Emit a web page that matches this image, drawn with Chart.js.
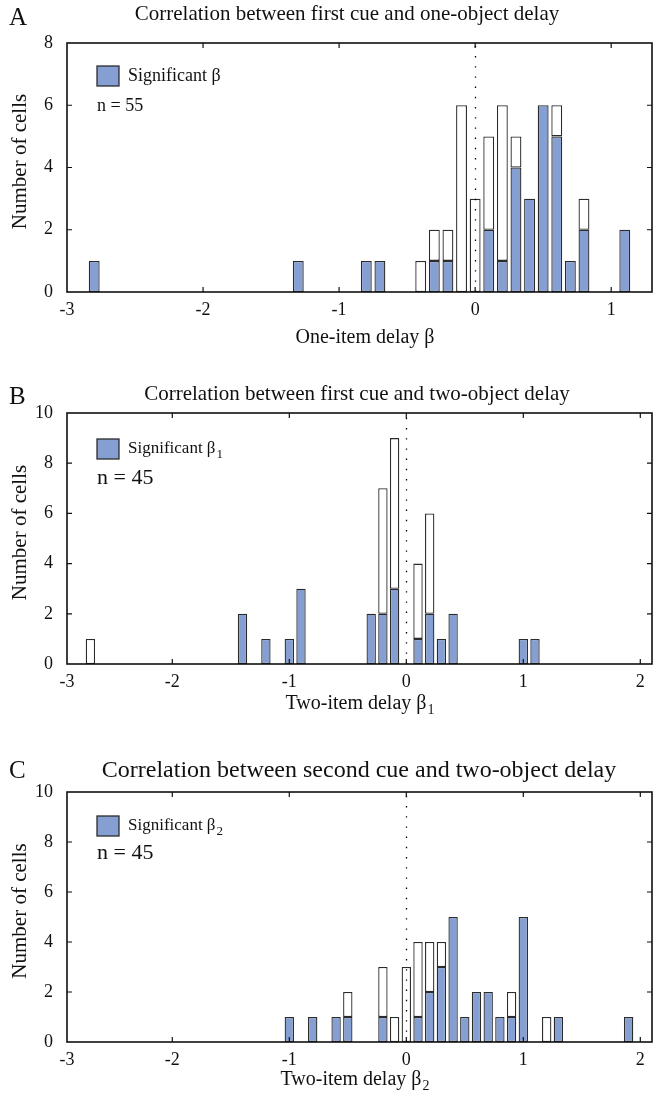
<!DOCTYPE html>
<html>
<head>
<meta charset="utf-8">
<script src="https://cdn.jsdelivr.net/npm/chart.js@4.4.0/dist/chart.umd.min.js"></script>
<style>
  html, body { margin: 0; padding: 0; background: #fff; }
  canvas { position: absolute; left: 0; }
</style>
</head>
<body>
<canvas id="chartA" width="657" height="366" style="top:0px"></canvas>
<canvas id="chartB" width="657" height="367" style="top:366px"></canvas>
<canvas id="chartC" width="657" height="367" style="top:733px"></canvas>
<script>
// A: first cue vs one-object delay (bin centres, total cells, significant cells)
const binsA  = [-2.8, -1.3, -0.8, -0.7, -0.4, -0.3, -0.2, -0.1, 0, 0.1, 0.2, 0.3, 0.4, 0.5, 0.6, 0.7, 0.8, 1.1];
const totalA = [1, 1, 1, 1, 1, 2, 2, 6, 3, 5, 6, 5, 3, 6, 6, 1, 3, 2];
const sigA   = [1, 1, 1, 1, 0, 1, 1, 0, 0, 2, 1, 4, 3, 6, 5, 1, 2, 2];

// B: first cue vs two-object delay
const binsB  = [-2.7, -1.4, -1.2, -1.0, -0.9, -0.3, -0.2, -0.1, 0.1, 0.2, 0.3, 0.4, 1.0, 1.1];
const totalB = [1, 2, 1, 1, 3, 2, 7, 9, 4, 6, 1, 2, 1, 1];
const sigB   = [0, 2, 1, 1, 3, 2, 2, 3, 1, 2, 1, 2, 1, 1];

// C: second cue vs two-object delay
const binsC  = [-1.0, -0.8, -0.6, -0.5, -0.2, -0.1, 0, 0.1, 0.2, 0.3, 0.4, 0.5, 0.6, 0.7, 0.8, 0.9, 1.0, 1.2, 1.3, 1.9];
const totalC = [1, 1, 1, 2, 3, 1, 3, 4, 4, 4, 5, 1, 2, 2, 1, 2, 5, 1, 1, 1];
const sigC   = [1, 1, 1, 1, 1, 0, 0, 1, 2, 3, 5, 1, 2, 2, 1, 1, 5, 0, 1, 1];

// tick values / labels
const xTicksA  = [-3, -2, -1, 0, 1];
const xLabelsA = ['-3', '-2', '-1', '0', '1'];
const xTicksBC  = [-2.9, -2, -1, 0, 1, 2];
const xLabelsBC = ['-3', '-2', '-1', '0', '1', '2'];
const yTicksA  = [0, 2, 4, 6, 8];
const yTicksBC = [0, 2, 4, 6, 8, 10];

const BLUE = '#869fd3';
const EDGE = '#2b2b2b';
const SERIF = '"Liberation Serif", "Times New Roman", serif';

function font(size) { return size + 'px ' + SERIF; }

// text with optional subscript, align = 'left' or 'center'
function subText(ctx, main, sub, x, y, size, subSize, align) {
  ctx.font = font(size);
  const w1 = ctx.measureText(main).width;
  ctx.font = font(subSize);
  const w2 = sub ? ctx.measureText(sub).width + 1 : 0;
  let x0 = align === 'center' ? x - (w1 + w2) / 2 : x;
  ctx.textAlign = 'left';
  ctx.textBaseline = 'middle';
  ctx.font = font(size);
  ctx.fillText(main, x0, y);
  if (sub) {
    ctx.font = font(subSize);
    ctx.fillText(sub, x0 + w1 + 1, y + size * 0.3);
  }
}

function makePanel(id, p) {
  const decor = {
    id: 'decor' + id,
    afterDatasetsDraw(chart) {
      const ctx = chart.ctx;
      const a = chart.chartArea;
      const xs = chart.scales.x, ys = chart.scales.y;
      ctx.save();
      // dotted zero line
      ctx.strokeStyle = '#000';
      ctx.lineWidth = 1.3;
      ctx.setLineDash([1.4, 8.8]);
      const x0 = Math.round(xs.getPixelForValue(0)) + 0.5;
      ctx.beginPath();
      ctx.moveTo(x0, a.bottom);
      ctx.lineTo(x0, a.top);
      ctx.stroke();
      ctx.setLineDash([]);
      // frame
      ctx.lineWidth = 1.6;
      ctx.strokeStyle = '#111';
      ctx.strokeRect(a.left, a.top, a.right - a.left, a.bottom - a.top);
      // inward ticks
      ctx.lineWidth = 1.2;
      ctx.beginPath();
      p.xTicks.forEach(v => {
        const px = xs.getPixelForValue(v);
        if (px <= a.left + 1 || px >= a.right - 1) return;
        ctx.moveTo(px, a.bottom); ctx.lineTo(px, a.bottom - 5);
        ctx.moveTo(px, a.top); ctx.lineTo(px, a.top + 5);
      });
      p.yTicks.forEach(v => {
        const py = ys.getPixelForValue(v);
        if (py <= a.top + 1 || py >= a.bottom - 1) return;
        ctx.moveTo(a.left, py); ctx.lineTo(a.left + 5, py);
        ctx.moveTo(a.right, py); ctx.lineTo(a.right - 5, py);
      });
      ctx.stroke();

      ctx.fillStyle = '#111';
      // panel letter
      ctx.font = font(25);
      ctx.textAlign = 'left';
      ctx.textBaseline = 'middle';
      ctx.fillText(p.letter, 9, p.letterY);
      // title
      ctx.font = font(p.titleSize);
      ctx.textAlign = 'center';
      ctx.fillText(p.title, p.titleX, p.titleY);
      // y axis title
      ctx.save();
      ctx.translate(20, (a.top + a.bottom) / 2 - 6);
      ctx.rotate(-Math.PI / 2);
      ctx.font = font(21);
      ctx.textAlign = 'center';
      ctx.fillText('Number of cells', 0, 0);
      ctx.restore();
      // x axis title
      subText(ctx, p.xTitle, p.xSub, p.xTitleX, p.xTitleY, 20, 14, 'center');
      // legend box
      const lx = a.left + 30, ly = a.top + p.legendDy;
      ctx.fillStyle = BLUE;
      ctx.fillRect(lx, ly, 22, 20);
      ctx.strokeStyle = EDGE;
      ctx.lineWidth = 1.3;
      ctx.strokeRect(lx, ly, 22, 20);
      ctx.fillStyle = '#111';
      subText(ctx, 'Significant \u03b2', p.legSub, lx + 31, ly + 10, p.legSize, 13, 'left');
      ctx.font = font(p.nSize);
      ctx.textAlign = 'left';
      ctx.fillText(p.nText, lx, ly + p.nDy);
      ctx.restore();
    }
  };

  new Chart(document.getElementById(id), {
    type: 'bar',
    data: {
      datasets: [
        {
          label: 'Significant',
          data: p.bins.map((b, i) => ({ x: b, y: p.sig[i] })),
          backgroundColor: BLUE,
          borderColor: EDGE,
          borderWidth: 1.3,
          borderSkipped: false
        },
        {
          label: 'Not significant',
          data: p.bins.map((b, i) => ({ x: b, y: p.total[i] - p.sig[i] })),
          backgroundColor: '#ffffff',
          borderColor: EDGE,
          borderWidth: 1.3,
          borderSkipped: false
        }
      ]
    },
    options: {
      responsive: false,
      animation: false,
      devicePixelRatio: 1,
      categoryPercentage: 1,
      barPercentage: 0.8,
      layout: { padding: { top: p.top, right: 5, left: 0, bottom: 0 } },
      plugins: { legend: { display: false }, tooltip: { enabled: false } },
      scales: {
        x: {
          type: 'linear',
          stacked: true,
          offset: false,
          bounds: 'ticks',
          min: p.xMin,
          max: p.xMax,
          grid: { display: false, drawTicks: false, offset: false },
          border: { display: false },
          afterBuildTicks: s => { s.ticks = p.xTicks.map(v => ({ value: v })); },
          afterFit: s => { s.height = p.xHeight; },
          ticks: {
            autoSkip: false,
            maxRotation: 0,
            padding: 7,
            color: '#111',
            font: { family: SERIF, size: 18 },
            callback: (v, i) => p.xLabels[i]
          }
        },
        y: {
          stacked: true,
          min: 0,
          max: p.yTicks[p.yTicks.length - 1],
          grid: { display: false, drawTicks: false },
          border: { display: false },
          afterBuildTicks: s => { s.ticks = p.yTicks.map(v => ({ value: v })); },
          afterFit: s => { s.width = 67; },
          ticks: {
            padding: 14,
            color: '#111',
            font: { family: SERIF, size: 18 }
          }
        }
      }
    },
    plugins: [decor]
  });
}

makePanel('chartA', {
  bins: binsA, total: totalA, sig: sigA,
  xMin: -3, xMax: 1.3, xTicks: xTicksA, xLabels: xLabelsA, yTicks: yTicksA,
  top: 43, xHeight: 74,
  letter: 'A', letterY: 18,
  title: 'Correlation between first cue and one-object delay', titleSize: 21, titleX: 347, titleY: 14,
  xTitle: 'One-item delay \u03b2', xSub: '', xTitleX: 365, xTitleY: 338,
  legendDy: 23, legSub: '', legSize: 18, nText: 'n = 55', nSize: 18, nDy: 40
});

makePanel('chartB', {
  bins: binsB, total: totalB, sig: sigB,
  xMin: -2.9, xMax: 2.1, xTicks: xTicksBC, xLabels: xLabelsBC, yTicks: yTicksBC,
  top: 47, xHeight: 69,
  letter: 'B', letterY: 31,
  title: 'Correlation between first cue and two-object delay', titleSize: 21, titleX: 357, titleY: 28,
  xTitle: 'Two-item delay \u03b2', xSub: '1', xTitleX: 360, xTitleY: 338,
  legendDy: 26, legSub: '1', legSize: 17, nText: 'n = 45', nSize: 22, nDy: 39
});

makePanel('chartC', {
  bins: binsC, total: totalC, sig: sigC,
  xMin: -2.9, xMax: 2.1, xTicks: xTicksBC, xLabels: xLabelsBC, yTicks: yTicksBC,
  top: 59, xHeight: 58,
  letter: 'C', letterY: 38,
  title: 'Correlation between second cue and two-object delay', titleSize: 24, titleX: 359, titleY: 38,
  xTitle: 'Two-item delay \u03b2', xSub: '2', xTitleX: 355, xTitleY: 347,
  legendDy: 24, legSub: '2', legSize: 17, nText: 'n = 45', nSize: 22, nDy: 37
});
</script>
</body>
</html>
